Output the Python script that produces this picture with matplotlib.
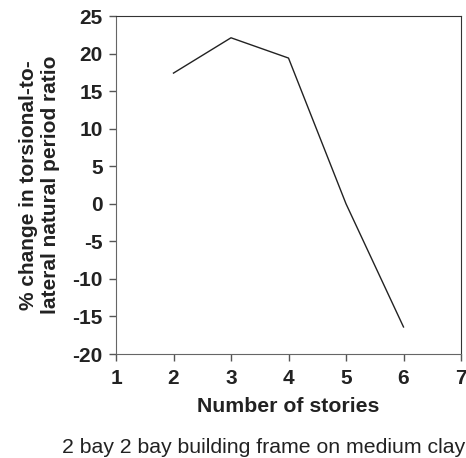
import matplotlib
matplotlib.use("Agg")
import matplotlib.pyplot as plt

stories = [2, 3, 4, 5, 6]
pct_change = [17.4, 22.1, 19.4, 0.0, -16.4]
xticks = [1, 2, 3, 4, 5, 6, 7]
yticks = [-20, -15, -10, -5, 0, 5, 10, 15, 20, 25]

plt.rcParams['font.family'] = ['Liberation Sans', 'DejaVu Sans']
plt.rcParams['axes.unicode_minus'] = False
W, H = 466, 458
fig = plt.figure(figsize=(W/100, H/100), dpi=100)
ax = fig.add_axes([116/W, 1-354/H, (461-116)/W, (354-16)/H])
ax.plot(stories, pct_change, color='#222222', lw=1.0)
ax.set_xlim(1, 7)
ax.set_ylim(-20, 25)
ax.set_xticks(xticks)
ax.set_yticks(yticks)
ax.tick_params(direction='out', length=5, width=1, colors='#555555', labelcolor='#222222',
               labelsize=15)
ax.tick_params(axis='y', pad=4.5)
ax.tick_params(axis='x', pad=5.5)
for lbl in ax.get_xticklabels() + ax.get_yticklabels():
    lbl.set_fontweight('bold')
for s in ['top', 'right']:
    ax.spines[s].set_color('#333333')
for s in ['left', 'bottom']:
    ax.spines[s].set_color('#666666')
ax.set_xlabel('Number of stories', fontsize=15.3, fontweight='bold', color='#222222', labelpad=7)
ax.set_ylabel('% change in torsional-to-\nlateral natural period ratio', fontsize=15, fontweight='bold',
              color='#222222', labelpad=9, linespacing=1.18)
fig.text(62/W, 1-453/H, '2 bay 2 bay building frame on medium clay', fontsize=15.3, color='#222222',
         ha='left', va='baseline')
fig.savefig('out.png', dpi=100)
